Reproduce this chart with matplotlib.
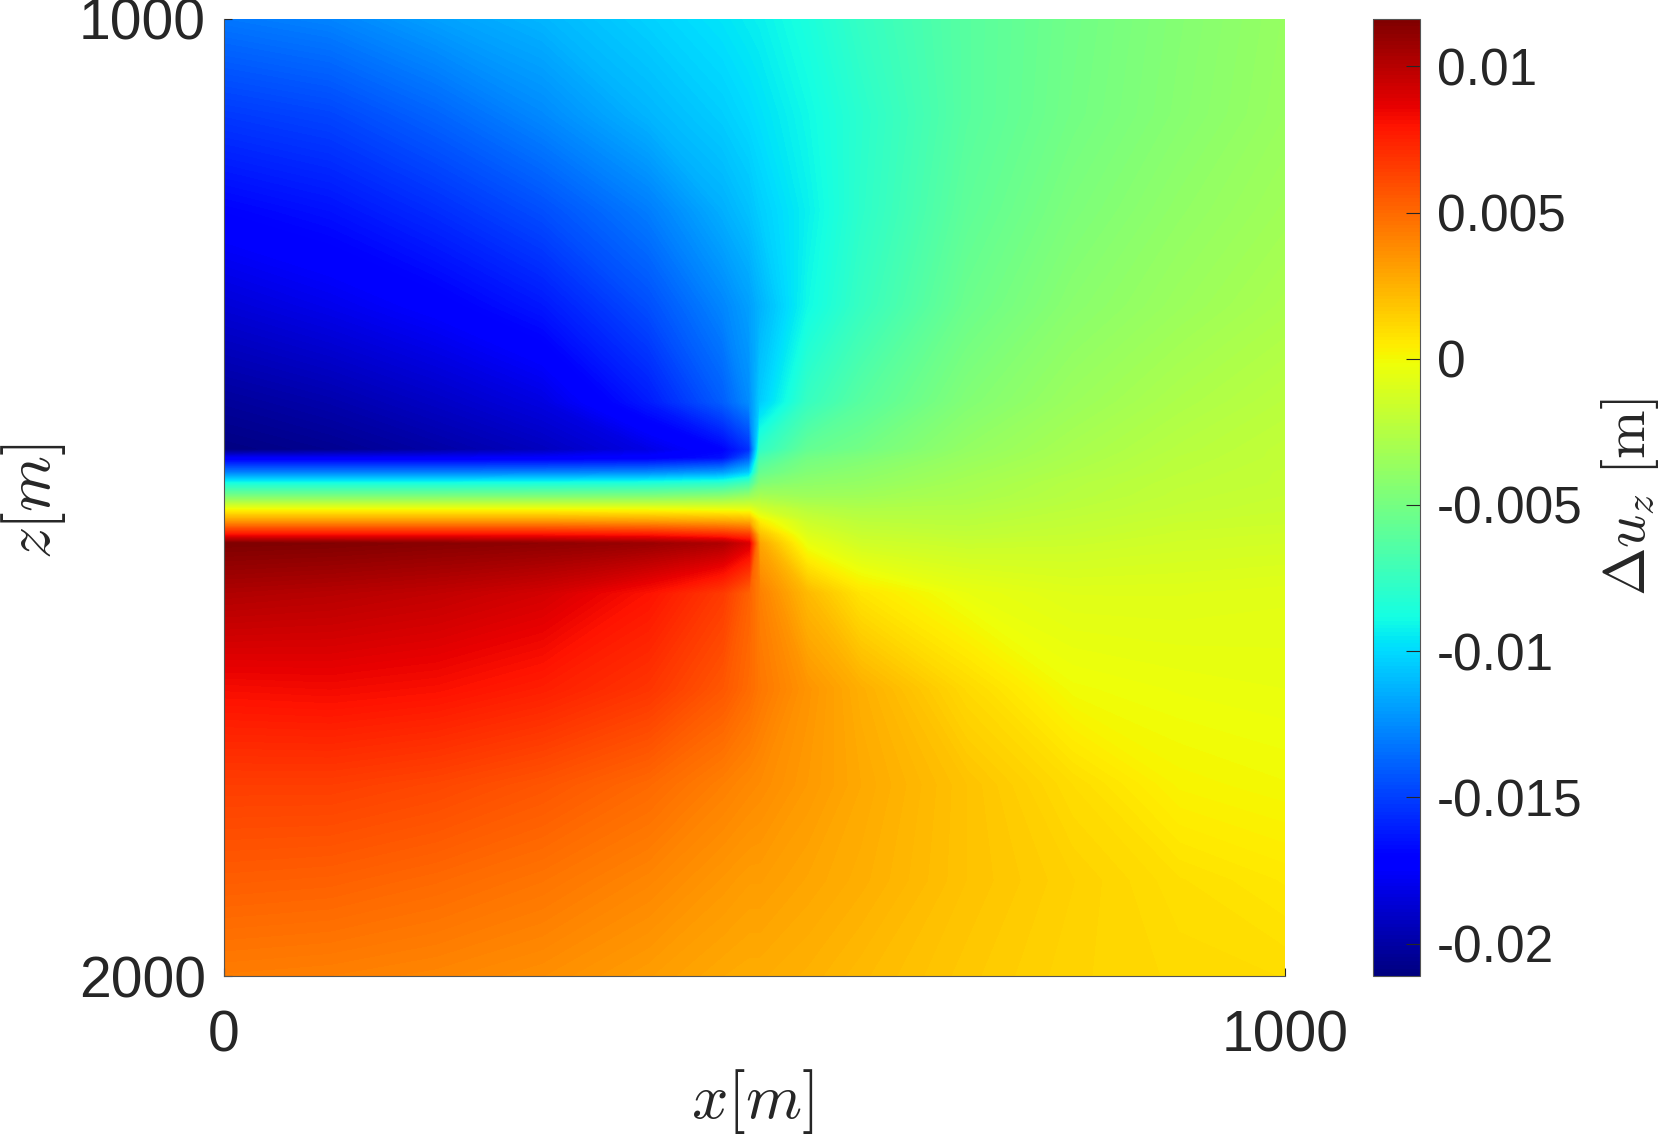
import numpy as np
import matplotlib
matplotlib.use("Agg")
import matplotlib.pyplot as plt

plt.rcParams['font.family'] = ['Liberation Sans', 'DejaVu Sans']
plt.rcParams['mathtext.fontset'] = 'cm'

# sample positions
x_m = [0, 100, 200, 300, 400, 470, 495, 505, 550, 600, 700, 800, 900, 1000]
z_m = [1000, 1100, 1200, 1300, 1400, 1450, 1459, 1474, 1485, 1499, 1512, 1525,
       1539, 1548, 1600, 1700, 1800, 1900, 2000]

# displacement change in mm, one list per depth
z1000 = [-13.2, -12.8, -11.9, -11.2, -10.3, -9.7, -9.4, -9.3, -8.6, -7.6, -6.2, -5.2, -4.4, -3.7]
z1100 = [-15.2, -14.8, -13.8, -12.6, -11.2, -10.4, -10.0, -9.8, -9.0, -8.0, -6.2, -5.1, -4.3, -3.6]
z1200 = [-17.0, -16.5, -15.6, -14.5, -13.0, -11.4, -10.8, -10.4, -9.3, -7.9, -5.9, -4.7, -3.9, -3.3]
z1300 = [-18.6, -18.0, -17.3, -16.3, -14.5, -12.7, -11.9, -11.3, -9.0, -7.5, -5.4, -4.2, -3.5, -2.9]
z1400 = [-20.3, -19.8, -19.1, -18.3, -16.2, -14.0, -12.5, -10.5, -7.5, -6.2, -4.5, -3.5, -2.8, -2.3]
z1450 = [-21.0, -20.6, -20.0, -19.3, -18.2, -17.0, -15.5, -7.8, -5.7, -5.1, -3.8, -3.0, -2.4, -2.0]
z1459 = [-17.5, -17.5, -17.5, -17.4, -17.2, -16.5, -14.0, -6.8, -5.1, -4.6, -3.6, -2.9, -2.3, -2.0]
z1474 = [-12.9, -12.9, -12.9, -12.8, -12.6, -12.0, -10.5, -5.6, -4.5, -4.1, -3.3, -2.7, -2.2, -1.9]
z1485 = [-8.8, -8.8, -8.8, -8.7, -8.5, -8.0, -7.0, -4.6, -4.0, -3.8, -3.1, -2.5, -2.1, -1.9]
z1499 = [-4.75, -4.75, -4.75, -4.7, -4.6, -4.2, -3.6, -3.0, -3.4, -3.3, -2.9, -2.4, -2.0, -1.8]
z1512 = [-0.2, -0.2, -0.2, -0.2, -0.3, -0.5, -0.6, -1.4, -2.4, -2.7, -2.6, -2.2, -1.9, -1.7]
z1525 = [3.4, 3.4, 3.4, 3.4, 3.2, 2.9, 2.6, 0.4, -1.6, -2.2, -2.3, -2.0, -1.7, -1.6]
z1539 = [8.0, 8.0, 8.0, 8.0, 7.8, 7.2, 6.6, 2.0, -0.9, -1.7, -2.0, -1.8, -1.5, -1.4]
z1548 = [11.6, 11.5, 11.3, 11.1, 10.8, 10.2, 9.0, 2.9, -0.4, -1.4, -1.7, -1.6, -1.4, -1.3]
z1600 = [10.2, 10.0, 9.7, 9.2, 8.0, 6.6, 5.2, 4.2, 2.2, 0.7, -0.4, -0.8, -0.8, -0.7]
z1700 = [8.2, 8.3, 8.1, 7.6, 6.8, 5.6, 4.9, 4.5, 3.5, 2.6, 1.1, -0.1, -0.3, -0.4]
z1800 = [6.5, 6.5, 6.2, 5.7, 5.0, 4.2, 3.9, 3.8, 3.3, 2.8, 1.9, 1.0, 0.2, 0.0]
z1900 = [5.4, 5.3, 5.0, 4.6, 4.0, 3.4, 3.2, 3.2, 2.9, 2.6, 1.9, 1.4, 0.9, 0.6]
z2000 = [4.3, 4.2, 4.0, 3.7, 3.2, 2.8, 2.7, 2.7, 2.5, 2.2, 1.7, 1.3, 1.1, 1.0]

x_ticks = [0, 1000]
z_ticks = [1000, 2000]
cbar_ticks = [0.01, 0.005, 0, -0.005, -0.01, -0.015, -0.02]
cbar_labels = ['0.01', '0.005', '0', '-0.005', '-0.01', '-0.015', '-0.02']
vmin, vmax = -0.02111, 0.01162

rows = [z1000, z1100, z1200, z1300, z1400, z1450, z1459, z1474, z1485, z1499,
        z1512, z1525, z1539, z1548, z1600, z1700, z1800, z1900, z2000]
field = np.array(rows) * 1e-3

W, H = 1661, 1138
fig = plt.figure(figsize=(W / 100, H / 100), dpi=100)
ax = fig.add_axes([224 / W, 1 - 976 / H, (1285 - 224) / W, (976 - 19) / H])
levels = np.linspace(vmin, vmax, 257)
cs = ax.contourf(x_m, z_m, np.clip(field, vmin, vmax), levels=levels, cmap='jet',
                 vmin=vmin, vmax=vmax, antialiased=False)
ax.set_xlim(0, 1000)
ax.set_ylim(2000, 1000)
ax.set_xticks(x_ticks)
ax.set_yticks(z_ticks)
dark = '#262626'
ax.tick_params(axis='x', direction='in', length=6, width=0.8, color=dark,
               labelsize=41, labelcolor=dark, pad=24)
ax.tick_params(axis='y', direction='in', length=6, width=0.8, color=dark,
               labelsize=41, labelcolor=dark, pad=13)
for name, s in ax.spines.items():
    s.set_color('#555555')
    s.set_linewidth(0.8)
ax.spines['top'].set_visible(False)
ax.spines['right'].set_visible(False)
fig.text(752 / W, 1 - 1102 / H, r'$x[m]$', fontsize=46, color=dark, ha='center', va='center')
fig.text(34 / W, 1 - 501 / H, r'$z[m]$', fontsize=46, color=dark, ha='center', va='center',
         rotation=90)

cax = fig.add_axes([1373 / W, 1 - 976 / H, (1420 - 1373) / W, (976 - 19) / H])
sm = plt.cm.ScalarMappable(norm=plt.Normalize(vmin, vmax), cmap='jet')
cb = fig.colorbar(sm, cax=cax)
cb.set_ticks(cbar_ticks)
cb.set_ticklabels(cbar_labels)
cb.ax.tick_params(direction='in', length=10, width=0.8, color=dark,
                  labelsize=37, labelcolor=dark, pad=12)
cb.outline.set_edgecolor('#555555')
cb.outline.set_linewidth(0.8)
fig.text(1630 / W, 1 - 497 / H, r'$\Delta u_z\ [\mathrm{m}]$', fontsize=42, color=dark,
         ha='center', va='center', rotation=90)

fig.savefig('out.png', dpi=100, facecolor='white')
